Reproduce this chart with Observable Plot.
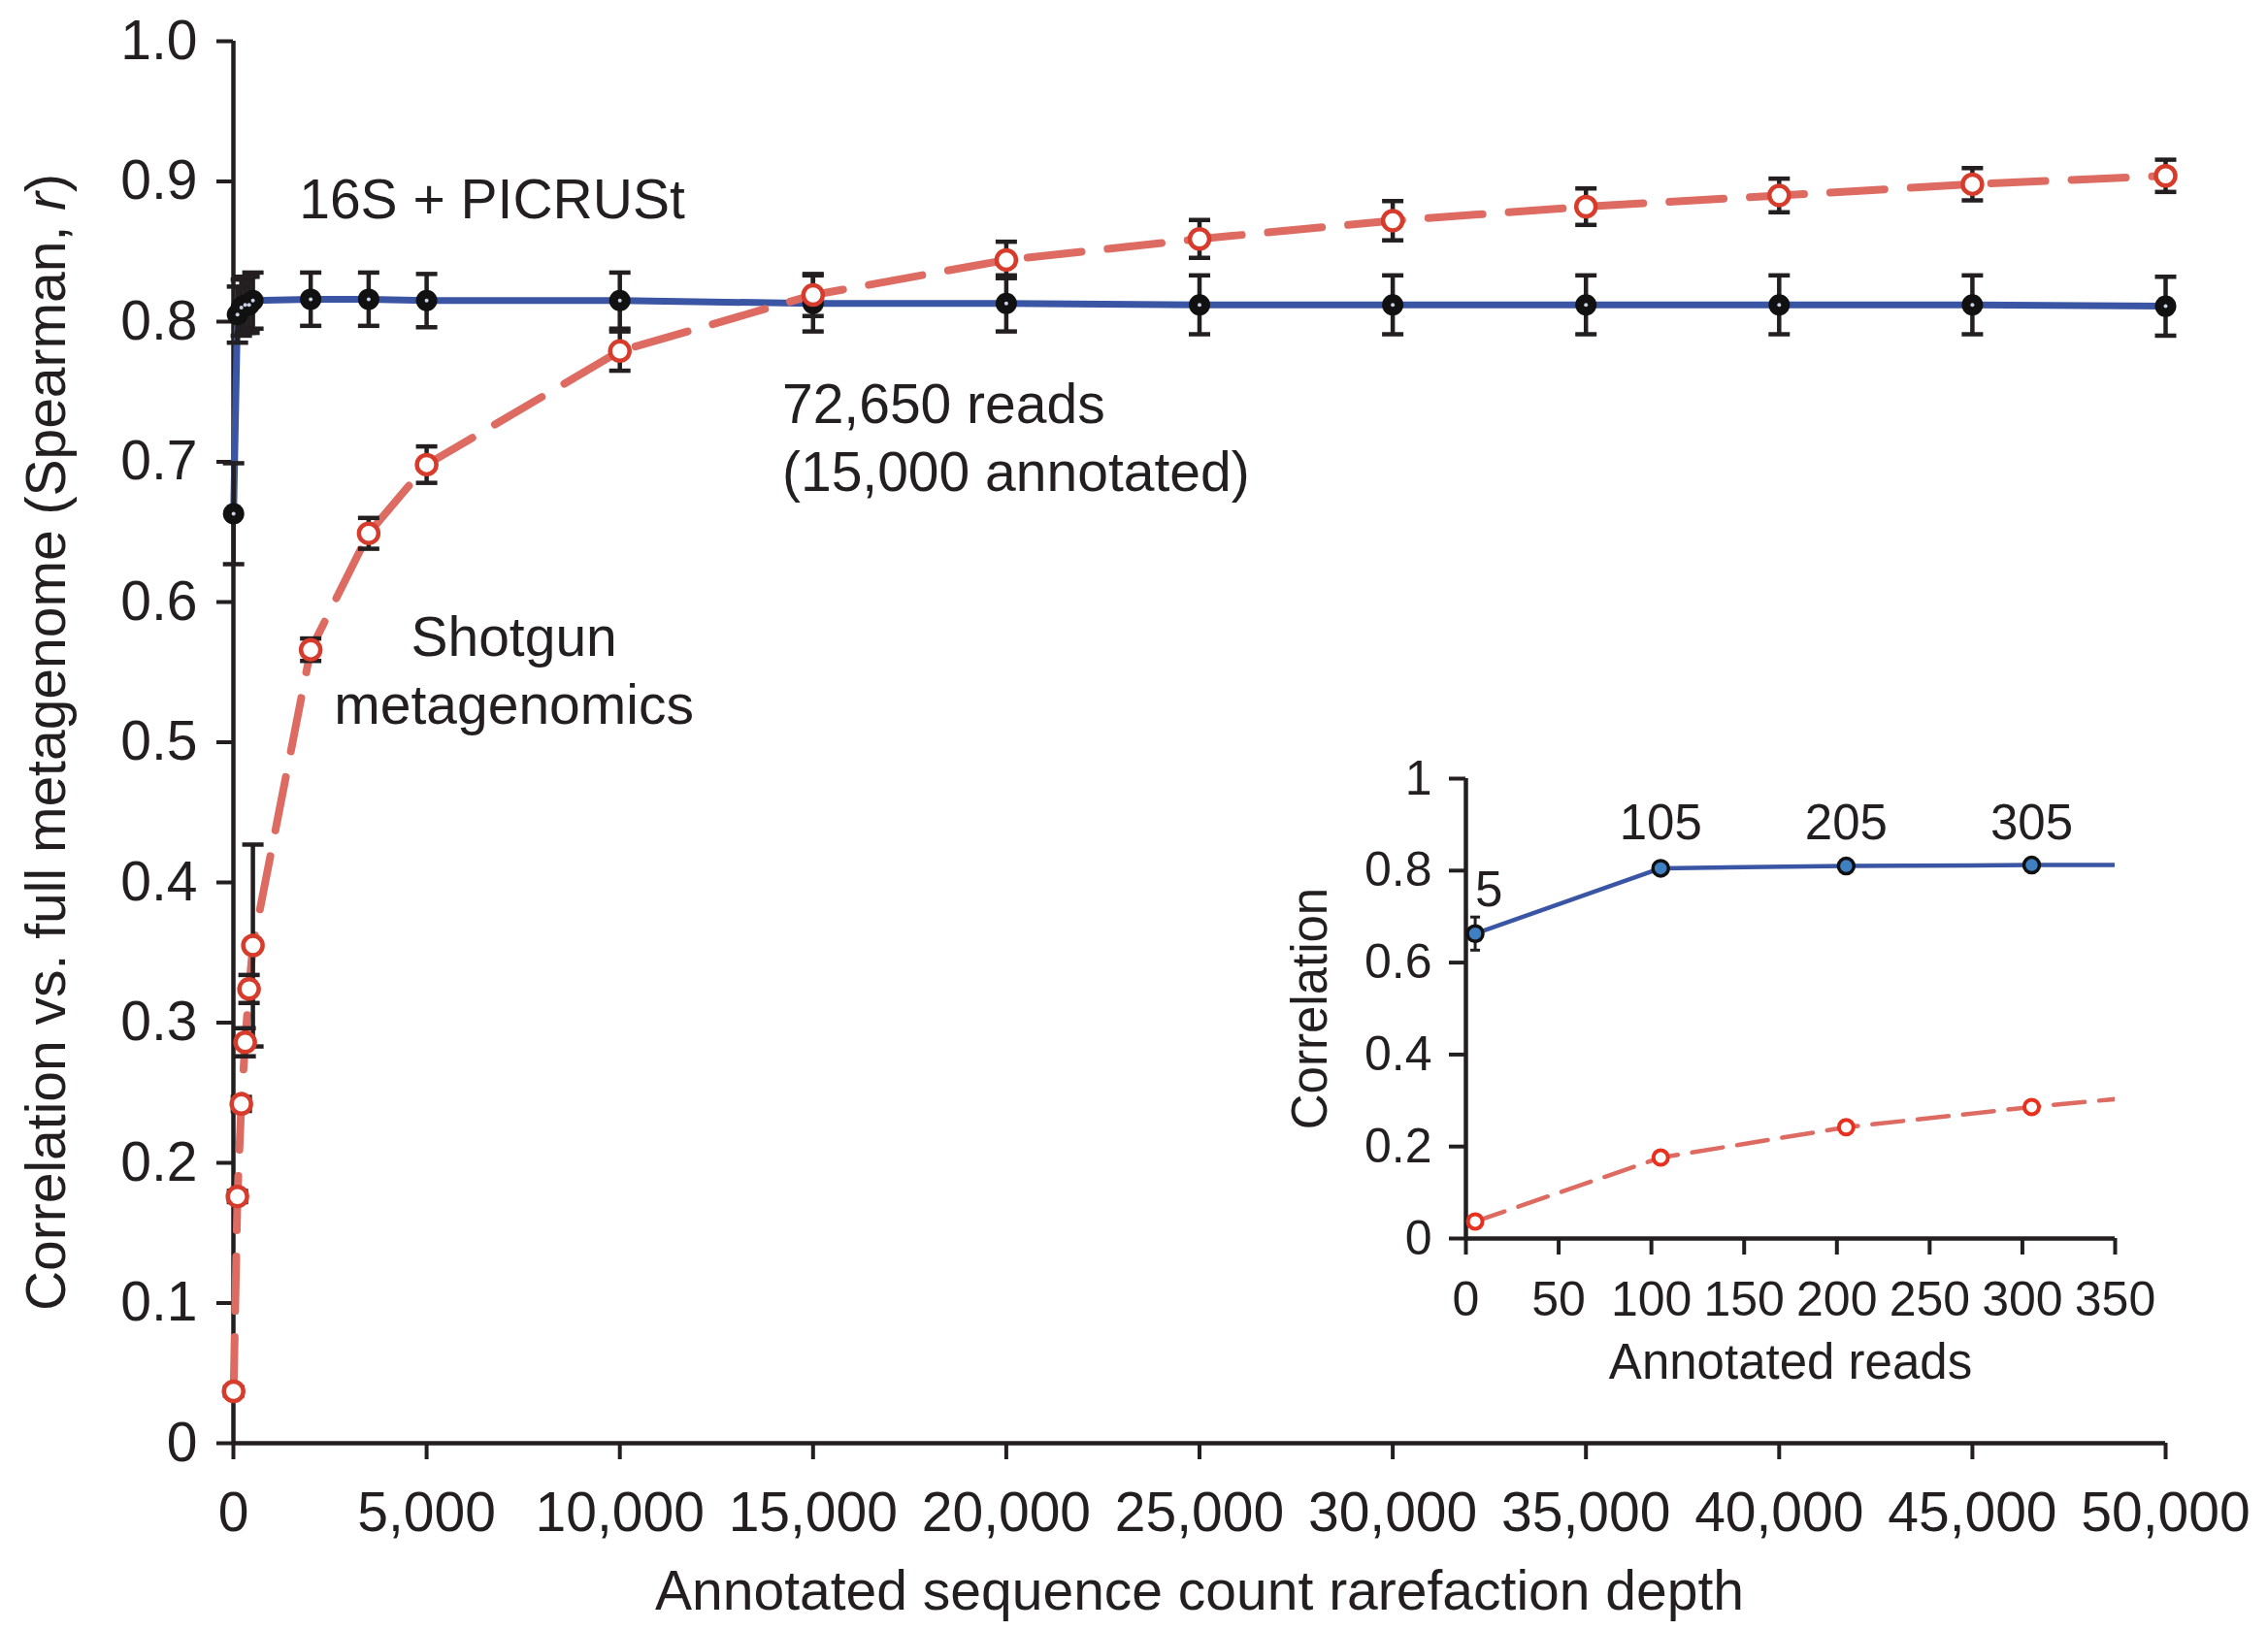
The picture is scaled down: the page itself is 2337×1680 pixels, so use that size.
<!DOCTYPE html>
<html><head><meta charset="utf-8">
<script src="https://cdn.jsdelivr.net/npm/d3@7"></script>
<script src="https://cdn.jsdelivr.net/npm/@observablehq/plot@0.6"></script>
<style>
html,body{margin:0;padding:0;background:#fff;}
#wrap{position:relative;width:2337px;height:1680px;}
#main{position:absolute;left:0;top:0;}
#inset{position:absolute;left:1300px;top:760px;}
svg{overflow:visible;}
</style></head><body><div id="wrap"><div id="main"></div><div id="inset"></div></div>
<script>
// ---- data ----
const depths = [5, 105, 205, 305, 405, 505, 2000, 3500, 5000, 10000, 15000, 20000, 25000, 30000, 35000, 40000, 45000, 50000];
const picrustR = [0.663, 0.805, 0.810, 0.812, 0.812, 0.815, 0.816, 0.816, 0.815, 0.815, 0.813, 0.813, 0.812, 0.812, 0.812, 0.812, 0.812, 0.811];
const picrustErr = [0.036, 0.02, 0.02, 0.02, 0.02, 0.02, 0.019, 0.019, 0.019, 0.02, 0.02, 0.02, 0.021, 0.021, 0.021, 0.021, 0.021, 0.021];
const shotgunR = [0.037, 0.176, 0.242, 0.286, 0.324, 0.355, 0.566, 0.649, 0.698, 0.779, 0.819, 0.844, 0.859, 0.872, 0.882, 0.890, 0.898, 0.904];
const shotgunErr = [0.003, 0.004, 0.005, 0.01, 0.01, 0.072, 0.008, 0.011, 0.013, 0.014, 0.015, 0.013, 0.0135, 0.014, 0.013, 0.012, 0.0115, 0.0115];

const xTicks = [0, 5000, 10000, 15000, 20000, 25000, 30000, 35000, 40000, 45000, 50000];
const yTicks = [0, 0.1, 0.2, 0.3, 0.4, 0.5, 0.6, 0.7, 0.8, 0.9, 1.0];
const insetXTicks = [0, 50, 100, 150, 200, 250, 300, 350];
const insetYTicks = [0, 0.2, 0.4, 0.6, 0.8, 1];
const insetCount = 6; // points 5..505 (clipped to 350 in inset)
const insetLabels = ["5", "105", "205", "305"];

const xTitle = "Annotated sequence count rarefaction depth";
const yTitle = "Correlation vs. full metagenome (Spearman, r)";
const insetXTitle = "Annotated reads";
const insetYTitle = "Correlation";

const annotationTexts = ["16S + PICRUSt", "72,650 reads", "(15,000 annotated)", "Shotgun", "metagenomics"];
const annotationX = [1700, 14200, 14200, 7260, 7260];
const annotationY = [0.886, 0.740, 0.692, 0.574, 0.526];
const annotationAnchor = ["start", "start", "start", "middle", "middle"];

// ---- styles ----
const FONT = '"Liberation Sans", Arial, Helvetica, sans-serif';
const INK = "#231f20";
const BLUE = "#3b55a5";
const RED_LINE = "#dd6b62";
const RED_MARK = "#d63b2b";

const picrust = depths.map((d, i) => ({x: d, y: picrustR[i], lo: picrustR[i] - picrustErr[i], hi: picrustR[i] + picrustErr[i]}));
const shotgun = depths.map((d, i) => ({x: d, y: shotgunR[i], lo: shotgunR[i] - shotgunErr[i], hi: shotgunR[i] + shotgunErr[i]}));
const annotations = annotationTexts.map((t, i) => ({text: t, x: annotationX[i], y: annotationY[i], anchor: annotationAnchor[i]}));

const capSymbol = {draw(ctx, size) { const w = Math.sqrt(size / Math.PI); ctx.moveTo(-w, 0); ctx.lineTo(w, 0); }};

function errorBars(data, capR, sw) {
  return [
    Plot.ruleX(data, {x: "x", y1: "lo", y2: "hi", stroke: INK, strokeWidth: sw}),
    Plot.dot(data, {x: "x", y: "lo", symbol: capSymbol, r: capR, fill: "none", stroke: INK, strokeWidth: sw}),
    Plot.dot(data, {x: "x", y: "hi", symbol: capSymbol, r: capR, fill: "none", stroke: INK, strokeWidth: sw})
  ];
}

const main = Plot.plot({
  width: 2337, height: 1680,
  marginLeft: 240, marginRight: 106, marginTop: 42, marginBottom: 193,
  style: {fontFamily: FONT, color: INK, background: "transparent", overflow: "visible"},
  x: {domain: [0, 50000]},
  y: {domain: [0, 1]},
  marks: [
    Plot.axisX({ticks: xTicks, tickFormat: d3.format(","), tickSize: 17, tickPadding: 33, strokeWidth: 4, fontSize: 57, label: null}),
    Plot.axisY({ticks: yTicks, tickFormat: d => d === 0 ? "0" : d.toFixed(1), tickSize: 17, tickPadding: 20, strokeWidth: 4, fontSize: 57, label: null}),
    Plot.ruleY([0], {stroke: INK, strokeWidth: 4.5}),
    Plot.ruleX([0], {stroke: INK, strokeWidth: 4.5}),
    Plot.line(picrust, {x: "x", y: "y", stroke: BLUE, strokeWidth: 7}),
    Plot.line(shotgun, {x: "x", y: "y", stroke: RED_LINE, strokeWidth: 8, strokeDasharray: "56,27"}),
    ...errorBars(picrust, 11, 4.5),
    ...errorBars(shotgun, 11, 4.5),
    Plot.dot(picrust, {x: "x", y: "y", r: 11, fill: "#111", stroke: "none"}),
    Plot.dot(picrust, {x: "x", y: "y", r: 2, fill: "#c8d2e6", stroke: "none"}),
    Plot.dot(shotgun, {x: "x", y: "y", r: 10, fill: "white", stroke: RED_MARK, strokeWidth: 4.5}),
    Plot.text(annotations.filter(a => a.anchor === "start"), {x: "x", y: "y", text: "text", textAnchor: "start", fontSize: 57, fill: INK}),
    Plot.text(annotations.filter(a => a.anchor === "middle"), {x: "x", y: "y", text: "text", textAnchor: "middle", fontSize: 57, fill: INK}),
    Plot.text([xTitle], {frameAnchor: "bottom", dy: 153, textAnchor: "middle", lineAnchor: "middle", fontSize: 57, fill: INK}),
    Plot.text([yTitle], {frameAnchor: "left", dx: -192, rotate: -90, textAnchor: "middle", lineAnchor: "middle", fontSize: 57, fill: INK})
  ]
});
document.getElementById("main").appendChild(main);

// italicise the "r" in the y-axis title
d3.select(main).selectAll("text").filter(function() { return this.textContent === yTitle; }).each(function() {
  const t = d3.select(this);
  t.text("");
  t.attr("text-anchor", "middle");
  t.append("tspan").text("Correlation vs. full metagenome (Spearman, ");
  t.append("tspan").attr("font-style", "italic").text("r");
  t.append("tspan").text(")");
});

// ---- inset ----
const insetBlue = picrust.slice(0, insetCount);
const insetRed = shotgun.slice(0, insetCount);
const insetLab = insetLabels.map((t, i) => ({text: t, x: depths[i], y: i === 0 ? 0.758 : 0.903}));

const inset = Plot.plot({
  width: 1000, height: 700,
  marginLeft: 210, marginRight: 121, marginTop: 42, marginBottom: 184,
  style: {fontFamily: FONT, color: INK, background: "transparent", overflow: "visible"},
  x: {domain: [0, 350]},
  y: {domain: [0, 1]},
  marks: [
    Plot.axisX({ticks: insetXTicks, tickFormat: d => String(d), tickSize: 17, tickPadding: 27, strokeWidth: 4, fontSize: 50, label: null}),
    Plot.axisY({ticks: insetYTicks, tickFormat: d => String(d), tickSize: 17, tickPadding: 18, strokeWidth: 4, fontSize: 50, label: null}),
    Plot.ruleY([0], {stroke: INK, strokeWidth: 4.5}),
    Plot.ruleX([0], {stroke: INK, strokeWidth: 4.5}),
    Plot.line(insetBlue, {x: "x", y: "y", stroke: BLUE, strokeWidth: 4.5, clip: true}),
    Plot.line(insetRed, {x: "x", y: "y", stroke: RED_LINE, strokeWidth: 4.5, strokeDasharray: "32,15", clip: true}),
    Plot.ruleX(insetBlue.slice(0, 1), {x: "x", y1: "lo", y2: "hi", stroke: INK, strokeWidth: 3}),
    Plot.dot(insetBlue.slice(0, 1), {x: "x", y: "lo", symbol: capSymbol, r: 5, fill: "none", stroke: INK, strokeWidth: 3}),
    Plot.dot(insetBlue.slice(0, 1), {x: "x", y: "hi", symbol: capSymbol, r: 5, fill: "none", stroke: INK, strokeWidth: 3}),
    Plot.dot(insetBlue, {x: "x", y: "y", r: 8, fill: "#3f80c2", stroke: "#111", strokeWidth: 3.5, clip: true}),
    Plot.dot(insetRed, {x: "x", y: "y", r: 7.5, fill: "white", stroke: "#e8301f", strokeWidth: 4, clip: true}),
    Plot.text(insetLab.slice(0, 1), {x: "x", y: "y", text: "text", textAnchor: "start", fontSize: 51, fill: INK}),
    Plot.text(insetLab.slice(1), {x: "x", y: "y", text: "text", textAnchor: "middle", fontSize: 51, fill: INK}),
    Plot.text([insetXTitle], {frameAnchor: "bottom", dy: 128, textAnchor: "middle", lineAnchor: "middle", fontSize: 51, fill: INK}),
    Plot.text([insetYTitle], {frameAnchor: "left", dx: -160, rotate: -90, textAnchor: "middle", lineAnchor: "middle", fontSize: 51, fill: INK})
  ]
});
document.getElementById("inset").appendChild(inset);
</script>
</body></html>
